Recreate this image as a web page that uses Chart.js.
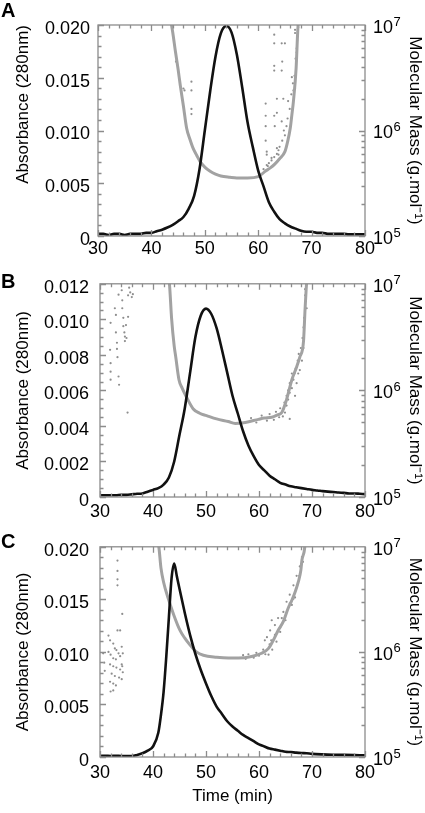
<!DOCTYPE html>
<html>
<head>
<meta charset="utf-8">
<script src="https://cdn.jsdelivr.net/npm/chart.js@4.4.1/dist/chart.umd.min.js"></script>
<style>
	html, body { margin: 0; padding: 0; background: #fff; }
	body { width: 425px; height: 813px; position: relative; overflow: hidden; font-family: "Liberation Sans", Arial, sans-serif; }
	.panel { position: absolute; left: 0; width: 425px; }
	.tag { position: absolute; left: 1px; font-weight: bold; font-size: 20px; line-height: 20px; color: #000; }
</style>
</head>
<body>
<div class="panel" style="top:0;height:262px"><canvas id="chartA"></canvas></div>
<div class="panel" style="top:262px;height:263px"><canvas id="chartB"></canvas></div>
<div class="panel" style="top:525px;height:288px"><canvas id="chartC"></canvas></div>
<div class="tag" style="top:0">A</div>
<div class="tag" style="top:271px">B</div>
<div class="tag" style="top:531px">C</div>
<script>
(function () {
	'use strict';

	// ---- panel A ----
	var absTimeA = [30,31,32,33,34,35,36,37,38,39,40,41,42,43,44,45,46,47,48,49,50,51,52,53,54,55,56,57,58,59,60,61,62,63,64,65,66,67,68,69,70,71,72,73,74,75,76,77,78,79,80];
	var absA = [0.0002,0.0002,0.0001,0.0002,0.0002,0.0001,0.0002,0.0002,0.0002,0.0003,0.0003,
		0.00045,0.0006,0.0008,0.00105,0.0014,0.0018,0.0026,0.0038,0.0063,0.0100,
		0.0137,0.0170,0.0192,0.0199,0.0193,0.0172,0.0141,0.0108,0.0084,0.0062,
		0.0047,0.0032,0.0023,0.0016,0.0012,0.0009,0.0007,0.0005,0.0004,0.0004,
		0.0003,0.0003,0.0002,0.0002,0.0002,0.0002,0.00015,0.00015,0.00015,0.00015];
	var massLineA = [[43.7,1.05e7],[44.0,8.5e6],[44.5,5.6e6],[45.0,3.8e6],[45.4,2.7e6],[46.0,1.7e6],[46.6,1.05e6],[47.2,8.3e5],
		[47.8,6.8e5],[48.5,5.8e5],[49.1,5.1e5],[50.0,4.5e5],[51.0,4.1e5],[52.0,3.85e5],[53.0,3.7e5],[54.7,3.6e5],[56.0,3.55e5],
		[58.0,3.55e5],[60.0,3.65e5],[61.3,4.1e5],[62.2,4.4e5],[63.1,4.8e5],[64.0,5.4e5],[65.0,6.3e5],[65.5,7.8e5],[66.0,1.05e6],
		[66.3,1.4e6],[66.6,1.9e6],[67.1,3.9e6],[67.4,8.7e6],[67.5,1.05e7]];
	var massDotsA = [[47.5,2.9e6],[47.5,2.4e6],[47.5,1.6e6],[47.5,1.43e6],[46.0,2.5e6],[46.2,2.4e6],[44.6,4.5e6],
		[63.0,8.1e6],[63.0,6.7e6],[64.4,6.7e6],[65.0,6.7e6],[63.0,4.1e6],[63.0,3.7e6],[64.4,3.7e6],[64.5,4.5e6],[61.4,1.8e6],
		[63.5,2.0e6],[64.7,2.0e6],[61.4,1.38e6],[63.0,1.38e6],[63.5,1.47e6],[61.4,1.1e6],[63.1,1.1e6],[64.4,1.22e6],[61.4,8.0e5],
		[61.6,6.3e5],[61.6,5.9e5],[61.6,4.7e5],[62.5,5.5e5],[63.5,6.8e5],[63.8,5.9e5],[66.9,8.4e6],[67.2,6.0e6],[66.3,3.2e6],
		[66.6,2.4e6],[65.6,1.9e6],[66.9,2.5e6],[61.0,4.3e5],[61.8,4.6e5],[62.0,4.9e5],[62.5,5.2e5],[63.0,5.6e5],[63.5,6.0e5],
		[63.8,6.5e5],[64.0,7.0e5],[64.5,8.0e5],[64.8,1.0e6],[65.0,9.0e5],[65.3,1.1e6],[65.5,1.3e6],[65.9,1.6e6],[66.2,2.2e6],
		[66.5,2.8e6],[66.8,3.3e6],[67.0,4.8e6],[67.2,5.5e6],[67.3,7.2e6],[67.5,9.5e6],[66.9,9.0e6]];

	// ---- panel B ----
	var absTimeB = absTimeA;
	var absB = [0.0001,0.0001,0.0001,0.0001,0.00012,0.00012,0.00015,0.00018,0.0002,
		0.0003,0.0004,0.0005,0.0007,0.0011,0.0020,0.0035,0.0050,0.0070,0.0090,
		0.0102,0.0106,0.0103,0.0095,0.0083,0.0070,0.0057,0.0047,0.0037,0.0029,
		0.0023,0.0018,0.0015,0.0012,0.0010,0.0008,0.0007,0.0006,0.00055,0.0005,
		0.00045,0.0004,0.00037,0.00033,0.0003,0.00028,0.00025,0.00023,0.0002,0.0002,0.00018,0.00016];
	var massLineB = [[43.0,1.05e7],[43.1,1.0e7],[43.5,4.8e6],[44.0,2.6e6],[44.3,2.05e6],[44.9,1.26e6],[45.5,1.05e6],[46.2,8.9e5],
		[47.6,6.7e5],[48.8,6.1e5],[50.1,5.8e5],[52.0,5.4e5],[54.2,5.1e5],[55.5,4.9e5],[57.4,5.0e5],[59.9,5.35e5],[61.0,5.5e5],
		[62.4,5.6e5],[63.5,5.9e5],[64.3,6.2e5],[65.2,8.2e5],[66.2,1.26e6],[67.1,1.66e6],[67.7,2.05e6],[68.4,2.9e6],[68.7,5.9e6],
		[68.9,8.9e6],[69.0,1.05e7]];
	var massDotsB = [[32.0,4.3e6],[31.9,2.4e6],[32.0,1.8e6],[32.0,1.5e6],[32.0,1.26e6],[32.8,5.9e6],[33.0,5.1e6],[33.0,3.5e6],
		[33.2,2.8e6],[33.2,2.45e6],[33.3,2.05e6],[33.5,1.35e6],[33.6,1.13e6],[34.1,8.7e6],[34.2,7.0e6],[34.2,5.9e6],[34.4,4.8e6],
		[34.4,4.0e6],[34.6,3.5e6],[34.7,3.2e6],[34.7,2.9e6],[34.9,4.1e6],[35.0,3.1e6],[35.3,7.8e6],[35.3,4.9e6],[35.5,9.2e6],
		[35.7,8.3e6],[36.0,7.5e6],[36.2,8.0e6],[35.2,6.2e5],[33.5,7.9e6],
		[68.7,8.9e6],[68.7,7.8e6],[69.0,5.9e6],[68.5,4.8e6],[68.4,3.9e6],[68.2,3.1e6],[67.9,2.5e6],[67.5,2.2e6],[67.3,1.9e6],
		[66.9,1.6e6],[66.7,1.44e6],[66.5,1.26e6],[66.2,1.05e6],[65.8,9.5e5],[65.5,8.2e5],[65.2,7.2e5],[64.9,6.2e5],[67.1,1.17e6],
		[67.4,1.44e6],[67.7,1.55e6],[66.2,1.44e6],[65.8,1.17e6],[65.5,1.0e6],[65.2,8.9e5],[64.8,7.7e5],[64.6,6.7e5],[65.8,5.4e5],
		[66.8,8.9e5],[68.1,1.9e6],[68.4,2.5e6],
		[58.5,5.5e5],[59.5,5.0e5],[60.5,5.8e5],[61.5,5.2e5],[62.0,6.0e5],[62.8,5.3e5],[63.2,6.3e5],[63.8,5.6e5],[64.0,6.8e5],[64.5,5.7e5]];

	// ---- panel C ----
	var absTimeC = [30,31,32,33,34,35,36,37,38,39,40,41,41.5,42,42.5,43,43.5,44,44.5,45,46,47,48,49,50,51,52,53,54,55,56,57,58,59,60,61,62,63,64,65,66,67,68,69,70,72,74,76,78,80];
	var absC = [0.0001,0.00012,0.0001,0.00012,0.0001,0.0001,0.0001,0.0002,0.00035,0.0006,0.0010,0.0023,
		0.0040,0.0062,0.0095,0.0133,0.0170,0.0184,0.0172,
		0.0160,0.0137,0.0116,0.0098,0.0083,0.0070,0.0058,0.0048,0.0041,0.0034,0.0029,0.0025,0.0021,
		0.0018,0.0015,0.0012,0.0010,0.0008,0.0007,0.0006,0.0005,0.00047,0.00042,0.00038,0.00035,0.0003,
		0.00025,0.00022,0.0002,0.00018,0.00016];
	var massLineC = [[41.0,1.05e7],[41.1,1.0e7],[41.5,6.3e6],[42.0,4.6e6],[42.9,3.2e6],[43.9,2.26e6],[45.1,1.6e6],[46.0,1.35e6],
		[47.0,1.16e6],[48.2,1.0e6],[49.5,9.3e5],[52.0,8.9e5],[54.2,8.75e5],[56.1,8.75e5],[58.6,9.05e5],[60.5,9.7e5],[61.8,1.08e6],
		[62.7,1.29e6],[63.6,1.6e6],[64.6,1.95e6],[65.5,2.6e6],[66.2,3.1e6],[66.8,3.7e6],[67.4,4.6e6],[67.9,6.0e6],[68.1,7.5e6],
		[68.5,8.9e6],[68.7,1.05e7]];
	var massDotsC = [[33.3,7.4e6],[33.3,5.9e6],[33.3,4.9e6],[33.3,4.3e6],[34.2,2.3e6],[33.3,1.6e6],[33.8,1.6e6],[31.6,1.43e6],
		[31.9,1.29e6],[32.5,1.2e6],[32.8,1.08e6],[33.1,1.04e6],[33.5,9.7e5],[34.1,1.12e6],[34.3,9.7e5],[31.6,1.0e6],[32.0,9.4e5],
		[32.5,8.7e5],[33.0,8.5e5],[33.8,9.1e5],[34.1,7.6e5],[31.9,7.6e5],[32.5,7.3e5],[33.1,7.1e5],[33.8,6.8e5],[34.3,6.4e5],
		[32.2,6.2e5],[32.8,5.9e5],[33.6,5.7e5],[34.1,5.5e5],[31.9,5.2e5],[32.5,5.0e5],[33.0,4.8e5],[32.0,4.2e5],[32.5,4.3e5],
		[30.6,9.7e5],[30.8,7.9e5],[30.9,6.6e5],[34.2,7.3e5],
		[62.1,1.6e6],[62.3,1.29e6],[62.4,2.0e6],[63.0,1.8e6],[63.6,2.1e6],[64.0,1.7e6],[64.6,2.4e6],[65.2,3.0e6],[65.8,3.5e6],
		[66.5,4.3e6],[67.1,5.3e6],[67.7,6.5e6],[68.1,8.0e6],[61.1,1.29e6],[61.5,1.38e6],[61.8,9.4e5],[66.2,2.8e6],[66.8,3.3e6],
		[57.0,9.3e5],[57.5,8.6e5],[58.0,9.5e5],[59.0,8.8e5],[59.5,9.8e5],[60.0,9.2e5],[60.8,1.05e6],[61.2,9.5e5],[62.0,1.18e6],
		[62.5,1.05e6],[63.0,1.45e6],[63.3,1.25e6],[64.0,1.55e6],[64.3,2.1e6],[65.0,2.0e6],[65.8,2.9e6],[66.5,3.2e6],[67.2,4.3e6],
		[67.6,5.3e6],[68.0,6.8e6],[68.3,7.2e6],[68.6,9.7e6]];

	var timeTicks = [30, 40, 50, 60, 70, 80];
	var massTicks = [1e5, 1e6, 1e7];

	var FONT = '"Liberation Sans", Arial, Helvetica, sans-serif';
	Chart.defaults.font.family = FONT;
	Chart.defaults.color = '#000';

	function toPoints(xs, ys) {
		return xs.map(function (x, i) { return {x: x, y: ys[i]}; });
	}
	function fromPairs(pairs) {
		return pairs.map(function (p) { return {x: p[0], y: p[1]}; });
	}

	function isMajor(v, major) {
		var r = v / major;
		return Math.abs(r - Math.round(r)) < 1e-6;
	}

	var RIGHT_PAD = 8;

	// frame + inward ticks on all four sides, and exponents of the log labels
	var frameTicks = {
		id: 'frameTicks',
		afterDatasetsDraw: function (chart, args, opts) {
			var ctx = chart.ctx,
				a = chart.chartArea,
				sx = chart.scales.x,
				sy = chart.scales.y,
				sy2 = chart.scales.y2,
				i, n, v, p, len;

			ctx.save();
			ctx.strokeStyle = '#8c8c8c';
			ctx.lineWidth = 1.3;
			ctx.beginPath();

			n = Math.round((sx.max - sx.min) / opts.xMinor);
			for (i = 0; i <= n; i++) {
				v = sx.min + i * opts.xMinor;
				p = Math.round(sx.getPixelForValue(v)) + 0.5;
				len = isMajor(v, opts.xMajor) ? 6 : 3.5;
				ctx.moveTo(p, a.bottom); ctx.lineTo(p, a.bottom - len);
				ctx.moveTo(p, a.top); ctx.lineTo(p, a.top + len);
			}

			n = Math.round((sy.max - sy.min) / opts.yMinor);
			for (i = 0; i <= n; i++) {
				v = sy.min + i * opts.yMinor;
				p = Math.round(sy.getPixelForValue(v)) + 0.5;
				len = isMajor(v, opts.yMajor) ? 6 : 3.5;
				ctx.moveTo(a.left, p); ctx.lineTo(a.left + len, p);
			}

			[5, 6].forEach(function (k) {
				for (var m = 1; m <= 9; m++) {
					var q = Math.round(sy2.getPixelForValue(m * Math.pow(10, k))) + 0.5;
					var l = m === 1 ? 6 : 3.5;
					ctx.moveTo(a.right, q); ctx.lineTo(a.right - l, q);
				}
			});

			ctx.stroke();
			ctx.strokeRect(a.left, a.top, a.right - a.left, a.bottom - a.top);
			ctx.restore();
		},
		afterDraw: function (chart) {
			var ctx = chart.ctx,
				a = chart.chartArea,
				sy2 = chart.scales.y2;

			ctx.save();
			ctx.font = '18px ' + FONT;
			var base = ctx.measureText('10').width;
			ctx.font = '13px ' + FONT;
			ctx.fillStyle = '#000';
			ctx.textBaseline = 'middle';
			ctx.textAlign = 'left';
			massTicks.forEach(function (v) {
				var y = sy2.getPixelForValue(v);
				ctx.fillText(String(Math.round(Math.log10(v))), a.right + RIGHT_PAD + base + 0.5, y - 3);
			});
			ctx.restore();
		}
	};

	function buildPanel(canvasId, p) {
		var xScale = {
			type: 'linear',
			min: 30,
			max: 80,
			grid: {display: false, drawTicks: false},
			border: {display: false},
			afterBuildTicks: function (s) {
				s.ticks = timeTicks.map(function (v) { return {value: v}; });
			},
			ticks: {font: {size: 18}, padding: p.xPad, maxRotation: 0, autoSkip: false},
			afterFit: function (s) { s.height = p.xHeight; }
		};
		if (p.timeTitle) {
			xScale.title = {display: true, text: 'Time (min)', font: {size: 17}, padding: {top: 0, bottom: 6}};
		}

		return new Chart(document.getElementById(canvasId), {
			type: 'scatter',
			data: {
				datasets: [{
					data: toPoints(p.absTime, p.abs),
					yAxisID: 'y',
					showLine: true,
					borderColor: '#111',
					borderWidth: 2.6,
					pointRadius: 0,
					cubicInterpolationMode: 'monotone'
				}, {
					data: fromPairs(p.massLine),
					yAxisID: 'y2',
					showLine: true,
					borderColor: '#a2a2a2',
					borderWidth: 3,
					pointRadius: 0,
					cubicInterpolationMode: 'monotone'
				}, {
					data: fromPairs(p.massDots),
					yAxisID: 'y2',
					showLine: false,
					pointRadius: 1.1,
					pointBorderWidth: 0,
					pointBackgroundColor: '#8e8e8e'
				}]
			},
			options: {
				responsive: true,
				maintainAspectRatio: false,
				animation: false,
				events: [],
				layout: {padding: {top: p.padTop, left: 0, right: 0, bottom: 0}},
				plugins: {
					legend: {display: false},
					tooltip: {enabled: false},
					frameTicks: {xMinor: 2, xMajor: 10, yMinor: p.yMinor, yMajor: p.yStep}
				},
				scales: {
					x: xScale,
					y: {
						type: 'linear',
						position: 'left',
						min: 0,
						max: p.yMax,
						grid: {display: false, drawTicks: false},
						border: {display: false},
						ticks: {
							stepSize: p.yStep,
							font: {size: 18},
							padding: p.leftPad,
							labelOffset: 4,
							callback: function (v) { return v === 0 ? '0' : v.toFixed(3); }
						},
						title: {display: true, text: 'Absorbance (280nm)', font: {size: 17}, align: p.leftAlign, padding: {top: 13, bottom: 0}},
						afterFit: function (s) { s.width = p.leftWidth; }
					},
					y2: {
						type: 'logarithmic',
						position: 'right',
						min: 1e5,
						max: 1e7,
						grid: {display: false, drawTicks: false},
						border: {display: false},
						afterBuildTicks: function (s) {
							s.ticks = massTicks.map(function (v) { return {value: v}; });
						},
						ticks: {
							font: {size: 18},
							padding: RIGHT_PAD,
							labelOffset: 3,
							autoSkip: false,
							callback: function () { return '10'; }
						},
						title: {display: true, text: 'Molecular Mass (g.mol\u207B\u00B9)', font: {size: 17}, padding: {top: 0, bottom: 0}},
						afterFit: function (s) { s.width = 60; }
					}
				}
			},
			plugins: [frameTicks]
		});
	}

	buildPanel('chartA', {
		absTime: absTimeA, abs: absA, massLine: massLineA, massDots: massDotsA,
		yMax: 0.020, yStep: 0.005, yMinor: 0.001, padTop: 25, xHeight: 26, xPad: 2,
		leftWidth: 98, leftPad: 8, leftAlign: 'end'
	});
	buildPanel('chartB', {
		absTime: absTimeB, abs: absB, massLine: massLineB, massDots: massDotsB,
		yMax: 0.012, yStep: 0.002, yMinor: 0.0005, padTop: 16, xHeight: 28, xPad: 4,
		leftWidth: 100, leftPad: 11, leftAlign: 'center'
	});
	buildPanel('chartC', {
		absTime: absTimeC, abs: absC, massLine: massLineC, massDots: massDotsC,
		yMax: 0.020, yStep: 0.005, yMinor: 0.001, padTop: 14, xHeight: 56, xPad: 5,
		leftWidth: 100, leftPad: 11, leftAlign: 'center', timeTitle: true
	});
})();
</script>
</body>
</html>
